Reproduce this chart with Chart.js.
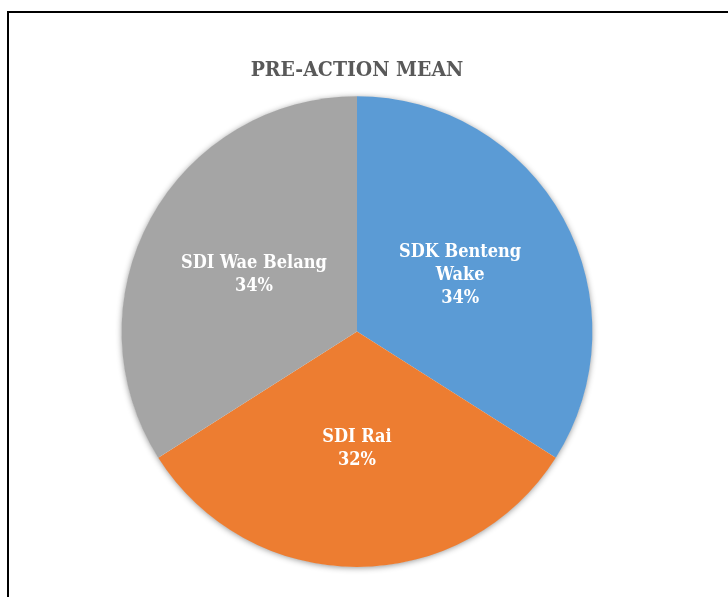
<!DOCTYPE html>
<html>
<head>
<meta charset="utf-8">
<script src="https://cdn.jsdelivr.net/npm/chart.js@4/dist/chart.umd.min.js"></script>
<style>
  html, body { margin: 0; padding: 0; background: #fff; }
  #wrap { position: relative; width: 728px; height: 597px; }
  #frame { position: absolute; left: 7px; top: 11px; width: 740px; height: 600px;
           border-left: 2px solid #000; border-top: 2px solid #000; box-sizing: border-box; }
  canvas { position: absolute; left: 0; top: 0; }
</style>
</head>
<body>
<div id="wrap">
  <canvas id="c" width="728" height="597"></canvas>
  <div id="frame"></div>
</div>
<script>
const chartTitle = "PRE-ACTION MEAN";
const categories = ["SDK Benteng Wake", "SDI Rai", "SDI Wae Belang"];
const labelLines = [["SDK Benteng", "Wake"], ["SDI Rai"], ["SDI Wae Belang"]];
const values = [34, 32, 34];
const colors = ["#5B9BD5", "#ED7D31", "#A5A5A5"];

const serif = "'DejaVu Serif Condensed', 'DejaVu Serif', serif";

const shadowPlugin = {
  id: "pieShadow",
  beforeDatasetsDraw(chart) {
    const arc = chart.getDatasetMeta(0).data[0];
    if (!arc) return;
    const ctx = chart.ctx;
    ctx.save();
    ctx.shadowColor = "rgba(0,0,0,0.45)";
    ctx.shadowBlur = 6;
    ctx.shadowOffsetX = 0;
    ctx.shadowOffsetY = 1;
    ctx.fillStyle = "#ffffff";
    ctx.beginPath();
    ctx.arc(arc.x, arc.y, arc.outerRadius - 0.5, 0, Math.PI * 2);
    ctx.fill();
    ctx.restore();
  }
};

const labelPlugin = {
  id: "sliceLabels",
  afterDatasetsDraw(chart) {
    const ctx = chart.ctx;
    const meta = chart.getDatasetMeta(0);
    const total = values.reduce((a, b) => a + b, 0);
    ctx.save();
    ctx.fillStyle = "#ffffff";
    ctx.font = "bold 18px " + serif;
    ctx.textAlign = "center";
    ctx.textBaseline = "middle";
    meta.data.forEach((arc, i) => {
      const mid = (arc.startAngle + arc.endAngle) / 2;
      const r = arc.outerRadius * 0.5;
      const cx = arc.x + Math.cos(mid) * r;
      const cy = arc.y + Math.sin(mid) * r;
      const lines = labelLines[i].concat([Math.round(values[i] / total * 100) + "%"]);
      const lh = 23;
      const y0 = cy - (lines.length - 1) * lh / 2;
      lines.forEach((t, k) => ctx.fillText(t, cx, y0 + k * lh));
    });
    ctx.restore();
  }
};

new Chart(document.getElementById("c"), {
  type: "pie",
  data: {
    labels: categories,
    datasets: [{
      data: values,
      backgroundColor: colors,
      borderWidth: 0,
      hoverOffset: 0
    }]
  },
  options: {
    responsive: false,
    animation: false,
    layout: { padding: { top: 3, bottom: 30, left: 0, right: 14 } },
    plugins: {
      legend: { display: false },
      tooltip: { enabled: false },
      title: {
        display: true,
        text: chartTitle,
        color: "#595959",
        font: { family: serif, size: 21, weight: "bold" },
        padding: { top: 55, bottom: 13 }
      }
    }
  },
  plugins: [shadowPlugin, labelPlugin]
});
</script>
</body>
</html>
